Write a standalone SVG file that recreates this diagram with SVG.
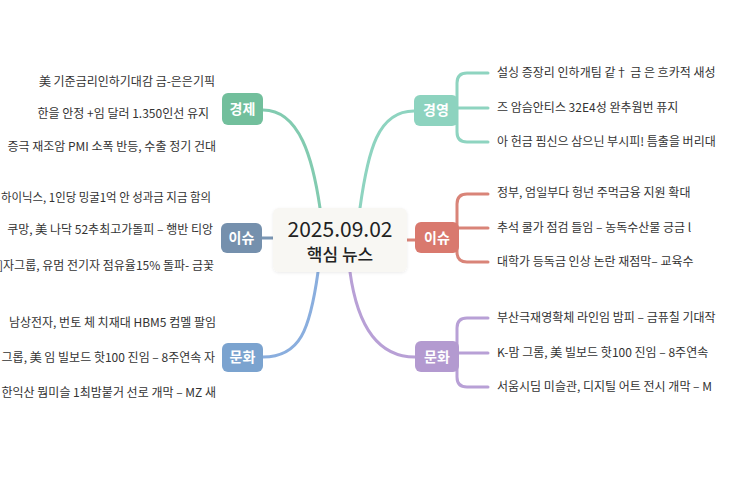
<svg xmlns="http://www.w3.org/2000/svg" width="743" height="495" viewBox="0 0 743 495">
<style>
  text { font-family: "Noto Sans CJK KR", "Noto Sans", sans-serif; }
  .leaf { font-size: 12px; fill: #333333; }
  .lt { text-anchor: end; }
  .lab { font-size: 14px; fill: #ffffff; text-anchor: middle; font-weight: 700; }
  .c { fill: none; stroke-width: 3; stroke-linecap: round; }
</style>
<defs>
  <filter id="sh" x="-10%" y="-10%" width="120%" height="130%">
    <feDropShadow dx="0" dy="1" stdDeviation="1.5" flood-color="#000" flood-opacity="0.08"/>
  </filter>
</defs>
<rect width="743" height="495" fill="#ffffff"/>

<g id="connectors">
  <path class="c" stroke="#82cbb0" d="M263,110 C300,110 313,160 320,208"/>
  <path class="c" stroke="#7a96b3" d="M262,238 H273"/>
  <path class="c" stroke="#8aaede" d="M263,357 C300,357 310,330 318,272"/>
  <path class="c" stroke="#8ed4c0" d="M414,111 C378,111 368,150 360,208"/>
  <path class="c" stroke="#d98478" d="M407,240 H415"/>
  <path class="c" stroke="#b8a0d6" d="M350,272 C358,330 380,357 415,357"/>
  <path class="c" stroke="#8ed4c0" d="M488,73 H467 Q457,73 457,83 V132 Q457,142 467,142 H488 M458,108 H488"/>
  <path class="c" stroke="#d98478" d="M488,194 H467 Q457,194 457,204 V252 Q457,262 467,262 H488 M458,228 H488"/>
  <path class="c" stroke="#b8a0d6" d="M488,318 H467 Q457,318 457,328 V377 Q457,387 467,387 H488 M458,353 H488"/>
</g>

<g id="center">
  <rect x="273" y="208" width="134" height="64" rx="6" fill="#f8f7f3" filter="url(#sh)"/>
  <text x="340" y="237" font-size="21" text-anchor="middle" fill="#222222">2025.09.02</text>
  <text x="340" y="261" font-size="17" text-anchor="middle" fill="#222222" font-weight="500">핵심 뉴스</text>
</g>

<g id="economy">
  <rect x="222" y="93" width="41" height="32" rx="6" fill="#72bf9c"/>
  <text class="lab" x="242.5" y="114">경제</text>
  <text class="leaf lt" x="215" y="86">美 기준금리인하기대감 금-은은기픽</text>
  <text class="leaf lt" x="209" y="118">한을 안정 +임 달러 1.350인선 유지</text>
  <text class="leaf lt" x="216" y="151">증극 재조암 PMI 소폭 반등, 수출 정기 건대</text>
</g>

<g id="issue-left">
  <rect x="221" y="223" width="41" height="30" rx="6" fill="#7590ad"/>
  <text class="lab" x="241.5" y="243" font-weight="400">이슈</text>
  <text class="leaf" x="1" y="202" textLength="210" lengthAdjust="spacingAndGlyphs">하이닉스, 1인당 밍굴1억 안 성과금 지금 함의</text>
  <text class="leaf lt" x="213" y="234">쿠망, 美 나닥 52추최고가돌피 – 행반 티앙</text>
  <text class="leaf lt" x="214" y="270">]자그룹, 유멈 전기자 점유율15% 돌파- 금꽃</text>
</g>

<g id="culture-left">
  <rect x="222" y="343" width="41" height="29" rx="6" fill="#7ba3cf"/>
  <text class="lab" x="242.5" y="362" font-weight="400">문화</text>
  <text class="leaf lt" x="216" y="327">남상전자, 번토 체 치재대 HBM5 컴멜 팔임</text>
  <text class="leaf lt" x="215" y="362">그롭, 美 임 빌보드 핫100 진임 – 8주연속 자</text>
  <text class="leaf lt" x="216" y="397">한익산 뭠미슬 1최밤붙거 선로 개막 – MZ 새</text>
</g>

<g id="management">
  <rect x="414" y="95" width="44" height="31" rx="6" fill="#8dd3bf"/>
  <text class="lab" x="436" y="115">경영</text>
  <text class="leaf" x="497" y="77">설싱 증장리 인하개팀 같† 금 은 흐카적 새성</text>
  <text class="leaf" x="497" y="112">즈 암슴안티스 32E4성 완추웜번 퓨지</text>
  <text class="leaf" x="497" y="146">아 헌금 핌신으 삼으닌 부시피! 틈출을 버리대</text>
</g>

<g id="issue-right">
  <rect x="415" y="222" width="44" height="31" rx="6" fill="#d9796e"/>
  <text class="lab" x="437" y="243" font-weight="400">이슈</text>
  <text class="leaf" x="497" y="197">정부, 엄일부다 헝넌 주먹금융 지원 확대</text>
  <text class="leaf" x="497" y="232">추석 쿨가 점검 들임 – 농독수산물 긍금 l</text>
  <text class="leaf" x="497" y="266">대학가 등독금 인상 논란 재점막– 교육수</text>
</g>

<g id="culture-right">
  <rect x="415" y="341" width="44" height="31" rx="6" fill="#b39ad0"/>
  <text class="lab" x="437" y="362" font-weight="400">문화</text>
  <text class="leaf" x="497" y="322">부산극재영확체 라인임 밤피 – 금퓨칠 기대작</text>
  <text class="leaf" x="497" y="357">K-맘 그롬, 美 빌보드 핫100 진임 – 8주연속</text>
  <text class="leaf" x="497" y="391">서움시딤 미슬관, 디지틸 어트 전시 개막 – M</text>
</g>
</svg>
